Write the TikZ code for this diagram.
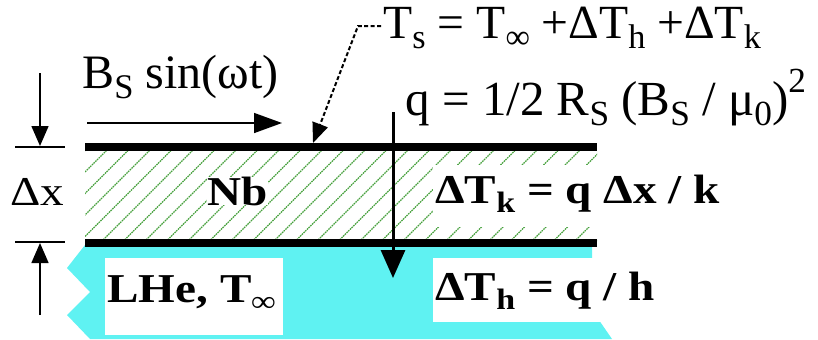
\documentclass[tikz,border=0pt]{standalone}
\usepackage{fontspec}
\setmainfont{Liberation Serif}
\usetikzlibrary{arrows.meta}
\definecolor{lhe}{RGB}{95,242,242}
\definecolor{hatchgreen}{RGB}{70,160,60}
\makeatletter
\newcommand\subx[1]{\raisebox{-0.22em}{\fontsize{\fpeval{0.72*\f@size}}{\fpeval{0.72*\f@size}}\selectfont #1}}
\newcommand\supx[1]{\raisebox{0.45em}{\fontsize{\fpeval{0.72*\f@size}}{\fpeval{0.72*\f@size}}\selectfont #1}}
\makeatother
\begin{document}
\begin{tikzpicture}[x=0.5pt,y=-0.5pt,
  lbl/.style={anchor=base west,inner sep=0pt,font=\rmfamily\fontsize{23.8}{23.8}\selectfont},
  blbl/.style={anchor=base west,inner sep=0pt,font=\rmfamily\bfseries\fontsize{20.5}{20.5}\selectfont\addfontfeature{FakeStretch=1.15}},
  dimarrow/.style={line width=0.75pt,-{Triangle[length=10pt,width=8.5pt]}},
  plate/.style={line width=4pt},
  tickline/.style={line width=0.75pt},
  whitebox/.style={fill=white}]
\useasboundingbox (0,0) rectangle (818,339);
% liquid helium
\fill[lhe] (85,245) -- (592,245) -- (592,310) -- (612,339) -- (90,339) -- (67,315) -- (90,292) -- (67,268) -- cycle;
% Nb hatching
\begin{scope}
  \clip (85,147) rectangle (597,243);
  \foreach \k in {-2,...,28} {
    \pgfmathsetmacro\c{257+21.5*\k}
    \draw[hatchgreen,line width=0.55pt,dash pattern=on 0.8pt off 0.4pt] (\c-147,147) -- (\c-243,243);
  }
\end{scope}
% white label backgrounds
\fill[whitebox] (105,258) rectangle (283,335);
\fill[whitebox] (433,258) rectangle (690,322);
\fill[whitebox] (433,165) rectangle (730,227);
% plates
\coordinate (t1) at (85,147); \coordinate (t2) at (597,147);
\coordinate (b1) at (85,243); \coordinate (b2) at (597,243);
\draw[plate] (t1) -- (t2);
\draw[plate] (b1) -- (b2);
% labels
\node[lbl,font=\rmfamily\fontsize{24}{24}\selectfont] (bs) at (82,88) {B\subx{S} sin(ωt)};
\node[lbl] (ts) at (383,38) {T\subx{s} = T\subx{∞} +ΔT\subx{h} +ΔT\subx{k}};
\node[lbl,font=\rmfamily\fontsize{24.5}{24.5}\selectfont] (q) at (405,115) {q = 1/2 R\subx{S} (B\subx{S} / μ\subx{0})\supx{2}};
\node[lbl,font=\rmfamily\fontsize{20.5}{20.5}\selectfont\addfontfeature{FakeStretch=1.15}] (dx) at (10,205) {Δx};
\node[blbl,fill=white] (nb) at (207,205) {Nb};
\node[blbl] (dtk) at (435,203) {ΔT\subx{k} = q Δx / k};
\node[blbl] (lhename) at (107,302) {LHe, T\subx{∞}};
\node[blbl] (dth) at (435,300) {ΔT\subx{h} = q / h};
% heat flux arrow
\coordinate (qtop) at (393,112); \coordinate (qtip) at (393,278);
\draw[line width=1.5pt,-{Triangle[length=14pt,width=12pt]}] (qtop) -- (qtip);
% field arrow
\coordinate (bstart) at (87,123); \coordinate (bend) at (282,123);
\draw[line width=0.75pt,-{Triangle[length=14pt,width=10pt]}] (bstart) -- (bend);
% thickness dimension
\coordinate (d1) at (40,73); \coordinate (d1t) at (40,146);
\coordinate (k1a) at (15,147); \coordinate (k1b) at (65,147);
\coordinate (d2) at (40,315); \coordinate (d2t) at (40,243);
\coordinate (k2a) at (15,242); \coordinate (k2b) at (65,242);
\draw[dimarrow] (d1) -- (d1t);
\draw[tickline] (k1a) -- (k1b);
\draw[dimarrow] (d2) -- (d2t);
\draw[tickline] (k2a) -- (k2b);
% surface temperature leader
\coordinate (ls) at (381,26); \coordinate (lc) at (358,26); \coordinate (lt) at (313,143);
\draw[line width=1pt,dash pattern=on 2pt off 1.2pt,-{Triangle[length=10pt,width=8pt]}] (ls) -- (lc) -- (lt);
\end{tikzpicture}
\end{document}
